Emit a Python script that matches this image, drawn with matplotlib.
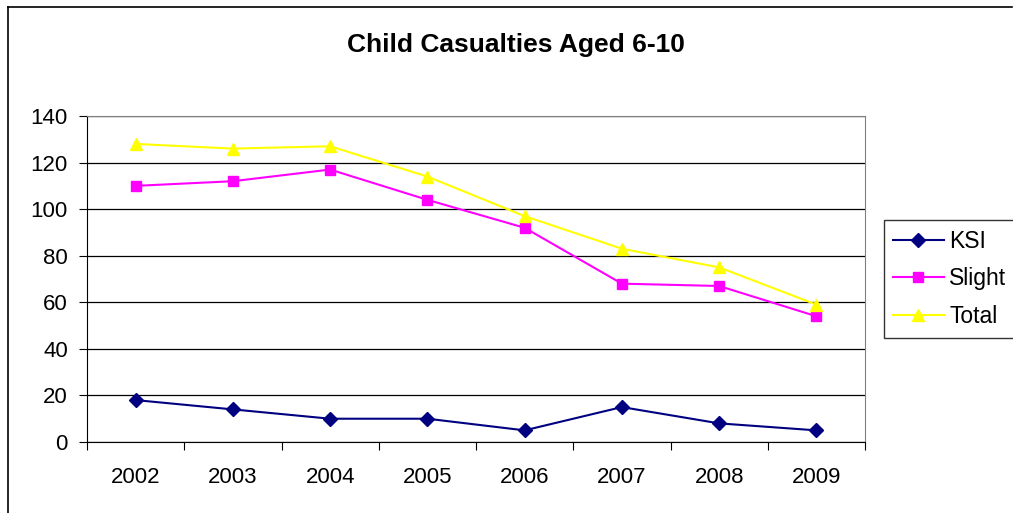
import matplotlib.pyplot as plt
import numpy as np
from matplotlib.lines import Line2D

plt.rcParams['font.family'] = ['Liberation Sans', 'DejaVu Sans']

years = ['2002', '2003', '2004', '2005', '2006', '2007', '2008', '2009']
ksi = [18, 14, 10, 10, 5, 15, 8, 5]
slight = [110, 112, 117, 104, 92, 68, 67, 54]
total = [128, 126, 127, 114, 97, 83, 75, 59]

W, H = 1013, 513
fig = plt.figure(figsize=(W / 100, H / 100), dpi=100)
ax = fig.add_axes([87 / W, (H - 442) / H, 778 / W, 326 / H])

x = np.arange(len(years))
ax.plot(x, ksi, color='#000080', marker='D', markersize=7, lw=1.5, label='KSI')
ax.plot(x, slight, color='#FF00FF', marker='s', markersize=7, lw=1.5, label='Slight')
ax.plot(x, total, color='#FFFF00', marker='^', markersize=9, lw=1.5, label='Total')

ax.set_xlim(-0.5, len(years) - 0.5)
ax.set_ylim(0, 140)
ax.set_yticks(range(0, 141, 20))
ax.yaxis.grid(True, color='black', lw=0.9)
ax.set_axisbelow(True)

# category axis: ticks between the years, labels centred on them
ax.set_xticks(np.arange(-0.5, len(years), 1))
ax.set_xticklabels([])
ax.set_xticks(x, minor=True)
ax.set_xticklabels(years, minor=True)
ax.tick_params(axis='x', which='minor', length=0, pad=18, labelsize=16)
ax.tick_params(axis='x', which='major', length=6, direction='out', color='black')
ax.tick_params(axis='y', length=5.8, direction='out', labelsize=16, pad=8)

for side in ['top', 'right']:
    ax.spines[side].set_color('#808080')
for side in ['left', 'bottom']:
    ax.spines[side].set_color('black')

fig.text(516 / W, 1 - 45 / H, 'Child Casualties Aged 6-10', ha='center', va='center',
         fontsize=19, fontweight='bold')

leg = fig.legend(loc='center left', bbox_to_anchor=(884 / W, 1 - 279 / H),
                 fontsize=16.5, frameon=True, fancybox=False, edgecolor='black',
                 handlelength=2.2, borderpad=0.4, labelspacing=0.65, handletextpad=0.25,
                 borderaxespad=0)
leg.get_frame().set_linewidth(1)

# chart-area border
fig.add_artist(Line2D([8 / W, 1012 / W], [1 - 7 / H, 1 - 7 / H], color='black', lw=1.2))
fig.add_artist(Line2D([8 / W, 8 / W], [0, 1 - 7 / H], color='black', lw=1.2))

fig.savefig('out.png', dpi=100)
